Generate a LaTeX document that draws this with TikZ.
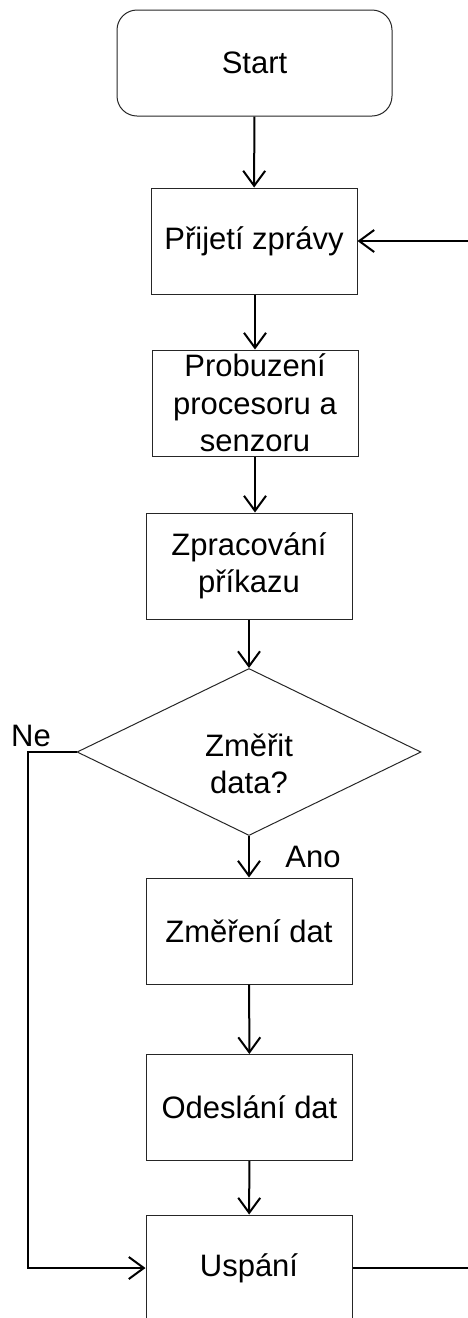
\documentclass[tikz,border=0pt]{standalone}
\usepackage{fontspec}
\setmainfont{Liberation Sans}
\usepackage{tikz}
\usetikzlibrary{shapes.geometric,arrows.meta}

\begin{document}
\begin{tikzpicture}[x=1pt, y=-1pt,
  every node/.style={font=\fontsize{31}{37.5}\selectfont, inner sep=0pt},
  krok/.style={draw=black!85, line width=1pt, minimum width=206pt, minimum height=106pt, align=center},
  startbox/.style={krok, rounded corners=20pt, minimum width=275pt},
  rozhod/.style={draw=black!85, line width=1pt, diamond, aspect=2.06, minimum width=344pt, minimum height=167pt},
  tok/.style={line width=2pt, -{Straight Barb[length=15pt, width=22pt]}},
  car/.style={line width=2pt}]
\useasboundingbox (0,0) rectangle (468,1318);
\clip (0,0) rectangle (468,1318);

% kroky
\node[startbox] (start) at (254.5,63) {Start};
\node[krok] (prijeti) at (254,241) {Přijetí zprávy};
\node[krok] (probuzeni) at (255,403) {Probuzení\\procesoru a\\senzoru};
\node[krok] (zpracovani) at (249,566) {Zpracování\\příkazu};
\node[rozhod] (merit) at (249,752) {};
\node[align=center] (merittext) at (249,764) {Změřit\\data?};
\node[krok] (mereni) at (249,931) {Změření dat};
\node[krok] (odeslani) at (249.5,1107.5) {Odeslání dat};
\node[krok] (uspani) at (249,1268) {Uspání};

\node (ne) at (31,736) {Ne};
\node (ano) at (313,857) {Ano};

\coordinate (zpet) at (490,1268);

% spoje
\draw[tok] (start) -- (prijeti);
\draw[tok] (prijeti.south -| probuzeni.south) -- (probuzeni);
\draw[tok] (probuzeni.south) -- (probuzeni.south |- zpracovani.north);
\draw[tok] (zpracovani) -- (merit);
\draw[tok] (merit) -- (mereni);
\draw[tok] (mereni) -- (odeslani);
\draw[tok] (odeslani) -- (uspani);
\draw[tok] (merit.west) -- ++(-49,0) |- (uspani.west);
\draw[tok] (uspani.east) -- (zpet) |- (prijeti.east);
\end{tikzpicture}
\end{document}
